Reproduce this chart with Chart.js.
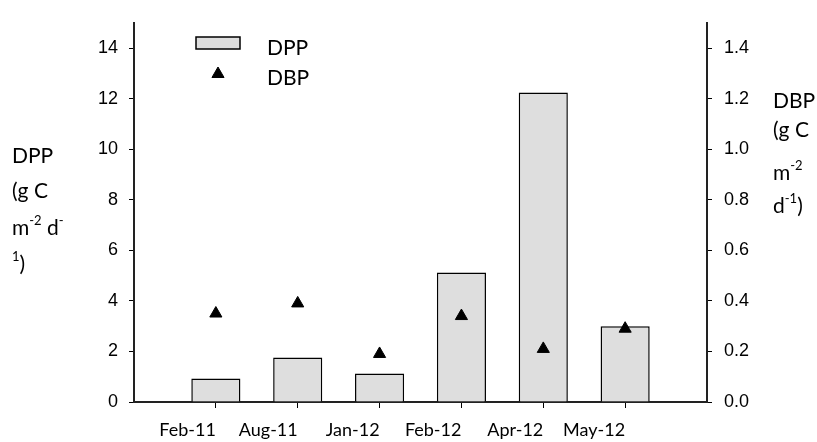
<!DOCTYPE html>
<html>
<head>
<meta charset="utf-8">
<script src="https://cdn.jsdelivr.net/npm/chart.js@4.4.1/dist/chart.umd.min.js"></script>
<style>
  html, body { margin: 0; padding: 0; background: #fff; }
  canvas { display: block; }
</style>
</head>
<body>
<canvas id="chart" width="817" height="442"></canvas>
<script>
// sampling dates (one slot each on the x axis)
const months = ['Feb-11', 'Aug-11', 'Jan-12', 'Feb-12', 'Apr-12', 'May-12'];
// DPP (g C m-2 d-1), bars, left axis
const dpp = [0.93, 1.76, 1.13, 5.12, 12.24, 3.0];
// DBP (g C m-2 d-1), triangles, right axis
const dbp = [0.35, 0.39, 0.19, 0.34, 0.21, 0.29];
const dppTicks = [0, 2, 4, 6, 8, 10, 12, 14];
const dbpTicks = [0, 0.2, 0.4, 0.6, 0.8, 1.0, 1.2, 1.4];

const titleFont = '21px Lato, sans-serif';
const supFont = '13px Lato, sans-serif';

// draws a line of text made of [text, superscript?] runs
function drawRuns(ctx, x, y, runs) {
  runs.forEach(([txt, sup]) => {
    ctx.font = sup ? supFont : titleFont;
    ctx.fillText(txt, x, sup ? y - 10 : y);
    x += ctx.measureText(txt).width;
  });
}

const annotations = {
  id: 'annotations',
  afterDraw(chart) {
    const ctx = chart.ctx;
    ctx.save();
    ctx.fillStyle = '#000';
    ctx.textAlign = 'left';
    ctx.textBaseline = 'alphabetic';

    // left axis title
    drawRuns(ctx, 12, 163, [['DPP', false]]);
    drawRuns(ctx, 12, 198, [['(g C', false]]);
    drawRuns(ctx, 12, 235, [['m', false], ['-2', true], [' d', false], ['-', true]]);
    drawRuns(ctx, 12, 271, [['1', true], [')', false]]);

    // right axis title
    drawRuns(ctx, 773, 108, [['DBP', false]]);
    drawRuns(ctx, 773, 137, [['(g C', false]]);
    drawRuns(ctx, 773, 180, [['m', false], ['-2', true]]);
    drawRuns(ctx, 773, 213, [['d', false], ['-1', true], [')', false]]);

    // legend
    const bars = chart.data.datasets[0];
    const pts = chart.data.datasets[1];
    ctx.fillStyle = bars.backgroundColor;
    ctx.strokeStyle = bars.borderColor;
    ctx.lineWidth = bars.borderWidth;
    ctx.fillRect(196, 37, 44, 12);
    ctx.strokeRect(196, 37, 44, 12);
    ctx.fillStyle = '#000';
    ctx.strokeStyle = '#000';
    ctx.lineWidth = 1;
    Chart.helpers.drawPoint(ctx, { pointStyle: 'triangle', radius: pts.pointRadius, borderWidth: 1 }, 218, 74);
    ctx.font = titleFont;
    ctx.fillText(bars.label, 267, 55);
    ctx.fillText(pts.label, 267, 85);
    ctx.restore();
  }
};

new Chart(document.getElementById('chart'), {
  type: 'bar',
  data: {
    datasets: [{
      label: 'DPP',
      data: months.map((m, i) => ({ x: i + 1, y: dpp[i] })),
      backgroundColor: '#dedede',
      borderColor: '#000',
      borderWidth: 1.5,
      barPercentage: 0.6,
      categoryPercentage: 1,
      yAxisID: 'y',
      order: 2
    }, {
      type: 'scatter',
      label: 'DBP',
      data: months.map((m, i) => ({ x: i + 1, y: dbp[i] })),
      pointStyle: 'triangle',
      pointRadius: 7,
      backgroundColor: '#000',
      borderColor: '#000',
      borderWidth: 1,
      yAxisID: 'y1',
      order: 1
    }]
  },
  options: {
    responsive: false,
    animation: false,
    devicePixelRatio: 1,
    layout: { padding: { top: 12, left: 0, right: 0, bottom: 0 } },
    plugins: { legend: { display: false }, tooltip: { enabled: false } },
    scales: {
      x: {
        type: 'linear',
        offset: false,
        min: 0,
        max: 7,
        afterBuildTicks: s => { s.ticks = months.map((m, i) => ({ value: i + 1 })); },
        afterFit: s => { s.height = 40; },
        grid: { offset: false, drawOnChartArea: false, drawTicks: true, tickLength: 6, color: '#000', lineWidth: 1 },
        border: { display: true, color: '#222', width: 2 },
        ticks: {
          align: 'end',
          padding: 11,
          maxRotation: 0,
          autoSkip: false,
          color: '#000',
          font: { family: 'Lato, sans-serif', size: 18 },
          callback: v => months[v - 1]
        }
      },
      y: {
        position: 'left',
        min: 0,
        max: 15,
        afterBuildTicks: s => { s.ticks = dppTicks.map(v => ({ value: v })); },
        afterFit: s => { s.width = 134; },
        grid: { drawOnChartArea: false, drawTicks: true, tickLength: 5, color: '#000', lineWidth: 1 },
        border: { display: true, color: '#222', width: 2 },
        ticks: {
          padding: 11,
          color: '#000',
          font: { family: 'Liberation Sans, Arial, sans-serif', size: 18 },
          callback: v => String(v)
        }
      },
      y1: {
        position: 'right',
        min: 0,
        max: 1.5,
        afterBuildTicks: s => { s.ticks = dbpTicks.map(v => ({ value: v })); },
        afterFit: s => { s.width = 110; },
        grid: { drawOnChartArea: false, drawTicks: true, tickLength: 5, color: '#000', lineWidth: 1 },
        border: { display: true, color: '#222', width: 2 },
        ticks: {
          padding: 12,
          color: '#000',
          font: { family: 'Liberation Sans, Arial, sans-serif', size: 18 },
          callback: v => v.toFixed(1)
        }
      }
    }
  },
  plugins: [annotations]
});
</script>
</body>
</html>
